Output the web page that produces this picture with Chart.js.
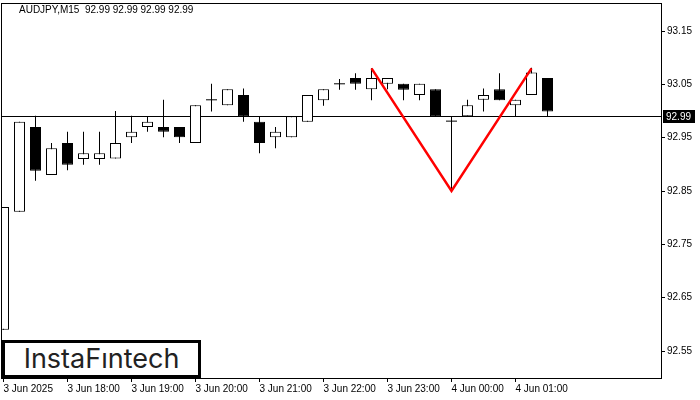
<!DOCTYPE html>
<html>
<head>
<meta charset="utf-8">
<script src="https://cdn.jsdelivr.net/npm/chart.js@4.4.1/dist/chart.umd.min.js"></script>
<style>
body{margin:0;background:#fff;}
#wrap{position:relative;width:700px;height:400px;}
#title{position:absolute;left:19px;top:4px;font:10px "Liberation Sans",sans-serif;color:#000;white-space:pre;}
#logo{position:absolute;left:2px;top:340px;width:193px;height:32px;border:3px solid #000;background:#fff;
  font:27px Inter,sans-serif;color:#222;text-align:center;line-height:32px;}
</style>
</head>
<body>
<div id="wrap">
  <canvas id="chart" width="700" height="400"></canvas>
  <div id="title">AUDJPY,M15  92.99 92.99 92.99 92.99</div>
  <div id="logo">InstaFıntech</div>
</div>
<script>
// M15 bars, 3 Jun 17:00 .. 4 Jun 01:30
let openArr  = [92.590,92.811,92.970,92.880,92.940,92.910,92.910,92.911,92.951,92.970,92.970,92.970,92.940,93.021,93.011,93.030,92.980,92.951,92.951,92.980,93.020,93.051,93.062,93.041,93.051,93.051,93.030,93.041,92.981,92.990,93.021,93.041,93.011,93.030,93.062];
let highArr  = [92.820,92.980,92.991,92.940,92.961,92.961,92.961,93.000,92.991,92.990,93.021,92.970,93.011,93.051,93.041,93.042,92.990,92.970,92.990,93.030,93.041,93.060,93.071,93.080,93.062,93.051,93.051,93.041,92.990,93.021,93.042,93.071,93.021,93.081,93.062];
let lowArr   = [92.590,92.811,92.869,92.880,92.889,92.899,92.899,92.911,92.940,92.961,92.951,92.940,92.940,92.999,93.011,92.980,92.921,92.930,92.951,92.980,93.010,93.040,93.040,93.020,93.041,93.020,93.020,92.990,92.850,92.990,92.999,93.020,92.990,93.030,92.990];
let closeArr = [92.820,92.980,92.888,92.930,92.899,92.921,92.921,92.940,92.961,92.980,92.961,92.951,93.011,93.021,93.041,92.990,92.940,92.961,92.990,93.030,93.041,93.051,93.051,93.062,93.062,93.040,93.051,92.990,92.981,93.011,93.030,93.020,93.021,93.072,92.999];

let xTickIdx = [0,4,8,12,16,20,24,28,32];
let xTickLabels = ["3 Jun 2025","3 Jun 18:00","3 Jun 19:00","3 Jun 20:00","3 Jun 21:00","3 Jun 22:00","3 Jun 23:00","4 Jun 00:00","4 Jun 01:00"];
let yTicks = [92.55,92.65,92.75,92.85,92.95,93.05,93.15];

let patternIdx = [23,28,33];
let patternPrice = [93.08,92.85,93.08];
let lastPrice = 92.99;

let bodies = [], bodyColors = [], wicks = [], dojis = [];
for(let i=0; i<openArr.length; i++) {
    wicks.push({x:i, y:[lowArr[i], highArr[i]]});
    if(openArr[i] === closeArr[i]) {
        dojis.push({x:i, y:openArr[i]});
        bodies.push({x:i, y:null});
    } else {
        bodies.push({x:i, y:[openArr[i], closeArr[i]]});
    }
    bodyColors.push(closeArr[i] >= openArr[i] ? "#fff" : "#000");
}
let pattern = [];
for(let i=0; i<patternIdx.length; i++) pattern.push({x:patternIdx[i], y:patternPrice[i]});

const mtPlugin = {
    id:"mt",
    beforeDatasetsDraw(chart) {
        let ctx = chart.ctx, a = chart.chartArea;
        let y = Math.round(chart.scales.y.getPixelForValue(lastPrice)) + 0.5;
        ctx.save();
        ctx.strokeStyle = "#000"; ctx.lineWidth = 1;
        ctx.beginPath(); ctx.moveTo(a.left, y); ctx.lineTo(a.right, y); ctx.stroke();
        ctx.restore();
    },
    afterDraw(chart) {
        let ctx = chart.ctx, a = chart.chartArea;
        ctx.save();
        ctx.strokeStyle = "#000"; ctx.lineWidth = 1;
        ctx.strokeRect(a.left + 0.5, a.top + 0.5, a.right - a.left, a.bottom - a.top);
        let y = Math.round(chart.scales.y.getPixelForValue(lastPrice));
        ctx.fillStyle = "#000";
        ctx.fillRect(a.right + 2, y - 6, 32, 13);
        ctx.fillStyle = "#fff";
        ctx.font = "10px 'Liberation Sans'";
        ctx.textBaseline = "middle";
        ctx.fillText(lastPrice.toFixed(2), a.right + 5, y + 1);
        ctx.restore();
    }
};

function noPad(s) {
    s.paddingTop = 0; s.paddingBottom = 0; s.paddingLeft = 0; s.paddingRight = 0;
}

new Chart(document.getElementById("chart"), {
    type:"bar",
    data:{
        datasets:[
            {type:"line", data:pattern, borderColor:"#f00", borderWidth:2.5, pointRadius:0, order:0},
            {type:"scatter", data:dojis, pointStyle:"line", pointRadius:5.5, borderColor:"#000", borderWidth:1, order:1},
            {data:bodies, backgroundColor:bodyColors, borderColor:"#000", borderWidth:1, borderSkipped:false,
             barThickness:11, grouped:false, inflateAmount:0, order:2},
            {data:wicks, backgroundColor:"#000", borderWidth:0, barThickness:1, grouped:false, inflateAmount:0, order:3}
        ]
    },
    options:{
        responsive:false,
        animation:false,
        layout:{autoPadding:false, padding:{top:3, left:1, right:0, bottom:0}},
        plugins:{legend:{display:false}, tooltip:{enabled:false}},
        scales:{
            x:{
                type:"linear", offset:false, min:-0.15625, max:41.09375,
                afterBuildTicks:(s)=>{ s.ticks = xTickIdx.map(v=>({value:v})); },
                afterFit:(s)=>{ s.height = 22; noPad(s); },
                grid:{offset:false, drawOnChartArea:false, tickLength:4, tickColor:"#000"},
                border:{display:false},
                ticks:{autoSkip:false, maxRotation:0, align:"start", padding:1, color:"#000",
                       font:{family:"Liberation Sans", size:10},
                       callback:(v)=>xTickLabels[xTickIdx.indexOf(v)]}
            },
            y:{
                position:"right", min:92.4994, max:93.2025,
                afterBuildTicks:(s)=>{ s.ticks = yTicks.map(v=>({value:v})); },
                afterFit:(s)=>{ s.width = 39; noPad(s); },
                grid:{drawOnChartArea:false, tickLength:4, tickColor:"#000"},
                border:{display:false},
                ticks:{padding:2, color:"#000", font:{family:"Liberation Sans", size:10},
                       callback:(v)=>v.toFixed(2)}
            }
        }
    },
    plugins:[mtPlugin]
});
</script>
</body>
</html>
